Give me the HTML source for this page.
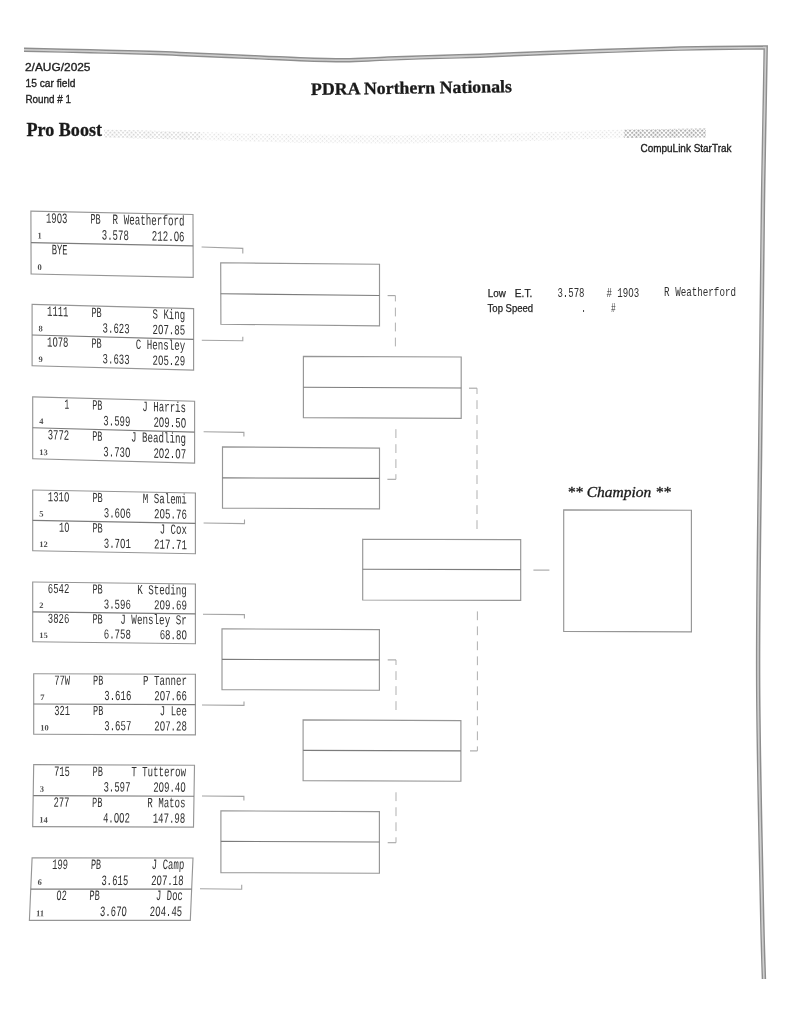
<!DOCTYPE html>
<html><head><meta charset="utf-8"><style>
html,body{margin:0;padding:0;background:#fff;}
body{width:791px;height:1024px;overflow:hidden;position:relative;}
svg{position:absolute;left:0;top:0;filter:blur(0.5px);}
</style></head><body>
<svg width="791" height="1024" viewBox="0 0 791 1024">
<defs>
<pattern id="ht" width="3" height="3" patternUnits="userSpaceOnUse">
<circle cx="1" cy="1" r="0.9" fill="#c8c8c8"/>
</pattern>
<pattern id="ht2" width="3" height="3" patternUnits="userSpaceOnUse">
<circle cx="1" cy="1" r="1.1" fill="#b0b0b0"/>
</pattern>
</defs>
<rect width="791" height="1024" fill="#fff"/>

<filter id="bb" x="-5%" y="-5%" width="110%" height="110%"><feGaussianBlur stdDeviation="0.6"/></filter>
<g filter="url(#bb)"><path d="M24,49.7 C35.00,49.97 69.00,50.80 90.00,51.30 C111.00,51.80 135.00,52.25 150.00,52.70 C165.00,53.15 161.67,53.22 180.00,54.00 C198.33,54.78 240.00,56.53 260.00,57.40 C280.00,58.27 285.83,58.73 300.00,59.20 C314.17,59.67 331.67,60.25 345.00,60.20 C358.33,60.15 367.50,59.37 380.00,58.90 C392.50,58.43 403.33,57.93 420.00,57.40 C436.67,56.87 460.00,56.40 480.00,55.70 C500.00,55.00 520.00,53.97 540.00,53.20 C560.00,52.43 576.67,51.87 600.00,51.10 C623.33,50.33 652.38,49.22 680.00,48.60 C707.62,47.98 751.42,47.60 765.70,47.40 C765.23,73.67 763.78,142.07 762.90,205.00 C762.02,267.93 761.20,346.67 760.40,425.00 C759.60,503.33 757.87,595.83 758.10,675.00 C758.33,754.17 760.83,849.33 761.80,900.00 C762.77,950.67 763.55,965.83 763.90,979.00" fill="none" stroke="#cfcfcf" stroke-width="2"/>
<path d="M24,48.2 C35.00,48.47 69.00,49.30 90.00,49.80 C111.00,50.30 135.00,50.75 150.00,51.20 C165.00,51.65 161.67,51.72 180.00,52.50 C198.33,53.28 240.00,55.03 260.00,55.90 C280.00,56.77 285.83,57.23 300.00,57.70 C314.17,58.17 331.67,58.75 345.00,58.70 C358.33,58.65 367.50,57.87 380.00,57.40 C392.50,56.93 403.33,56.43 420.00,55.90 C436.67,55.37 460.00,54.90 480.00,54.20 C500.00,53.50 520.00,52.47 540.00,51.70 C560.00,50.93 576.67,50.37 600.00,49.60 C623.33,48.83 652.13,47.72 680.00,47.10 C707.87,46.48 752.67,46.10 767.20,45.90 C766.73,72.42 765.28,141.82 764.40,205.00 C763.52,268.18 762.70,346.67 761.90,425.00 C761.10,503.33 759.37,595.83 759.60,675.00 C759.83,754.17 762.33,849.33 763.30,900.00 C764.27,950.67 765.05,965.83 765.40,979.00" fill="none" stroke="#8e8e8e" stroke-width="1.5"/>
<path d="M24,51.2 C35.00,51.47 69.00,52.30 90.00,52.80 C111.00,53.30 135.00,53.75 150.00,54.20 C165.00,54.65 161.67,54.72 180.00,55.50 C198.33,56.28 240.00,58.03 260.00,58.90 C280.00,59.77 285.83,60.23 300.00,60.70 C314.17,61.17 331.67,61.75 345.00,61.70 C358.33,61.65 367.50,60.87 380.00,60.40 C392.50,59.93 403.33,59.43 420.00,58.90 C436.67,58.37 460.00,57.90 480.00,57.20 C500.00,56.50 520.00,55.47 540.00,54.70 C560.00,53.93 576.67,53.37 600.00,52.60 C623.33,51.83 652.63,50.72 680.00,50.10 C707.37,49.48 750.17,49.10 764.20,48.90 C763.73,74.92 762.28,142.32 761.40,205.00 C760.52,267.68 759.70,346.67 758.90,425.00 C758.10,503.33 756.37,595.83 756.60,675.00 C756.83,754.17 759.33,849.33 760.30,900.00 C761.27,950.67 762.05,965.83 762.40,979.00" fill="none" stroke="#8e8e8e" stroke-width="1.4"/></g>
<text x="25" y="71" font-family="Liberation Sans" font-size="11.5" fill="#1e1e1e" stroke="#1e1e1e" stroke-width="0.35" textLength="65.5" lengthAdjust="spacingAndGlyphs">2/AUG/2025</text>
<text x="25.5" y="87" font-family="Liberation Sans" font-size="11.5" fill="#1e1e1e" stroke="#1e1e1e" stroke-width="0.35" textLength="50" lengthAdjust="spacingAndGlyphs">15 car field</text>
<text x="25.5" y="103" font-family="Liberation Sans" font-size="11" fill="#1e1e1e" stroke="#1e1e1e" stroke-width="0.35" textLength="45.5" lengthAdjust="spacingAndGlyphs">Round # 1</text>
<text x="311" y="95" font-family="Liberation Serif" font-weight="bold" font-size="17.5" fill="#1a1a1a" stroke="#1a1a1a" stroke-width="0.3" textLength="201" lengthAdjust="spacingAndGlyphs" transform="rotate(-0.8 311 95)">PDRA Northern Nationals</text>
<text x="26.5" y="135.5" font-family="Liberation Serif" font-weight="bold" font-size="18.5" fill="#1a1a1a" stroke="#1a1a1a" stroke-width="0.3" textLength="75.5" lengthAdjust="spacingAndGlyphs">Pro Boost</text>
<pattern id="htL" width="3" height="3" patternUnits="userSpaceOnUse" patternTransform="rotate(45)"><rect x="0" y="0" width="1.5" height="1.5" fill="#d6d6d6"/></pattern>
<pattern id="htM" width="3" height="3" patternUnits="userSpaceOnUse" patternTransform="rotate(45)"><rect x="0" y="0" width="1.4" height="1.4" fill="#e0e0e0"/></pattern>
<pattern id="htD" width="3" height="3" patternUnits="userSpaceOnUse" patternTransform="rotate(45)"><rect x="0" y="0" width="1.8" height="1.8" fill="#a8a8a8"/></pattern>
<polygon points="104,129.5 200,132 300,134.5 400,135 500,133.5 625,129.4 706,128.6 706,137.6 625,138 500,142 400,143.5 300,143 200,140 104,137.5" fill="url(#htM)"/>
<polygon points="104,129.5 200,132 200,140 104,137.5" fill="url(#htL)"/>
<polygon points="624,129.4 706,128.6 706,137.6 624,138" fill="url(#htD)"/>
<text x="640.5" y="151.5" font-family="Liberation Sans" font-size="10.5" fill="#1e1e1e" stroke="#1e1e1e" stroke-width="0.35" textLength="91" lengthAdjust="spacingAndGlyphs">CompuLink StarTrak</text>
<g transform="matrix(1.00062,0.02099,0.00323,1.01452,30.9,211.1)">
<rect x="0" y="0" width="162.0" height="62.0" fill="none" stroke="#969696" stroke-width="1.15"/>
<line x1="0" y1="31" x2="162.0" y2="31" stroke="#7c7c7c" stroke-width="1.15"/>
<text x="15.00" y="11.1" font-family="Liberation Mono" font-size="14.2" fill="#303030" textLength="21.50" lengthAdjust="spacingAndGlyphs">19O3</text>
<text x="59.50" y="11.1" font-family="Liberation Mono" font-size="14.2" fill="#303030" textLength="10.30" lengthAdjust="spacingAndGlyphs">PB</text>
<text x="81.60" y="11.1" font-family="Liberation Mono" font-size="14.2" fill="#303030" textLength="71.90" lengthAdjust="spacingAndGlyphs">R Weatherford</text>
<text x="70.70" y="26.6" font-family="Liberation Mono" font-size="14.2" fill="#303030" textLength="27.10" lengthAdjust="spacingAndGlyphs">3.578</text>
<text x="120.80" y="26.6" font-family="Liberation Mono" font-size="14.2" fill="#303030" textLength="32.70" lengthAdjust="spacingAndGlyphs">212.O6</text>
<text x="6.5" y="27" font-family="Liberation Serif" font-weight="bold" font-size="8.5" fill="#505050">1</text>
<text x="20.60" y="42.1" font-family="Liberation Mono" font-size="14.2" fill="#303030" textLength="15.90" lengthAdjust="spacingAndGlyphs">BYE</text>




<text x="6.5" y="58" font-family="Liberation Serif" font-weight="bold" font-size="8.5" fill="#505050">0</text>
</g>
<g transform="matrix(0.99691,0.02654,0.00000,0.99194,32.1,304.3)">
<rect x="0" y="0" width="162.0" height="62.0" fill="none" stroke="#969696" stroke-width="1.15"/>
<line x1="0" y1="31" x2="162.0" y2="31" stroke="#7c7c7c" stroke-width="1.15"/>
<text x="15.00" y="11.1" font-family="Liberation Mono" font-size="14.2" fill="#303030" textLength="21.50" lengthAdjust="spacingAndGlyphs">1111</text>
<text x="59.50" y="11.1" font-family="Liberation Mono" font-size="14.2" fill="#303030" textLength="10.30" lengthAdjust="spacingAndGlyphs">PB</text>
<text x="120.80" y="11.1" font-family="Liberation Mono" font-size="14.2" fill="#303030" textLength="32.70" lengthAdjust="spacingAndGlyphs">S King</text>
<text x="70.70" y="26.6" font-family="Liberation Mono" font-size="14.2" fill="#303030" textLength="27.10" lengthAdjust="spacingAndGlyphs">3.623</text>
<text x="120.80" y="26.6" font-family="Liberation Mono" font-size="14.2" fill="#303030" textLength="32.70" lengthAdjust="spacingAndGlyphs">2O7.85</text>
<text x="6.5" y="27" font-family="Liberation Serif" font-weight="bold" font-size="8.5" fill="#505050">8</text>
<text x="15.00" y="42.1" font-family="Liberation Mono" font-size="14.2" fill="#303030" textLength="21.50" lengthAdjust="spacingAndGlyphs">1O78</text>
<text x="59.50" y="42.1" font-family="Liberation Mono" font-size="14.2" fill="#303030" textLength="10.30" lengthAdjust="spacingAndGlyphs">PB</text>
<text x="104.00" y="42.1" font-family="Liberation Mono" font-size="14.2" fill="#303030" textLength="49.50" lengthAdjust="spacingAndGlyphs">C Hensley</text>
<text x="70.70" y="57.6" font-family="Liberation Mono" font-size="14.2" fill="#303030" textLength="27.10" lengthAdjust="spacingAndGlyphs">3.633</text>
<text x="120.80" y="57.6" font-family="Liberation Mono" font-size="14.2" fill="#303030" textLength="32.70" lengthAdjust="spacingAndGlyphs">2O5.29</text>
<text x="6.5" y="58" font-family="Liberation Serif" font-weight="bold" font-size="8.5" fill="#505050">9</text>
</g>
<g transform="matrix(0.99938,0.02716,0.00000,1.00000,32.7,396.8)">
<rect x="0" y="0" width="162.0" height="62.0" fill="none" stroke="#969696" stroke-width="1.15"/>
<line x1="0" y1="31" x2="162.0" y2="31" stroke="#7c7c7c" stroke-width="1.15"/>
<text x="31.80" y="11.1" font-family="Liberation Mono" font-size="14.2" fill="#303030" textLength="4.70" lengthAdjust="spacingAndGlyphs">1</text>
<text x="59.50" y="11.1" font-family="Liberation Mono" font-size="14.2" fill="#303030" textLength="10.30" lengthAdjust="spacingAndGlyphs">PB</text>
<text x="109.60" y="11.1" font-family="Liberation Mono" font-size="14.2" fill="#303030" textLength="43.90" lengthAdjust="spacingAndGlyphs">J Harris</text>
<text x="70.70" y="26.6" font-family="Liberation Mono" font-size="14.2" fill="#303030" textLength="27.10" lengthAdjust="spacingAndGlyphs">3.599</text>
<text x="120.80" y="26.6" font-family="Liberation Mono" font-size="14.2" fill="#303030" textLength="32.70" lengthAdjust="spacingAndGlyphs">2O9.5O</text>
<text x="6.5" y="27" font-family="Liberation Serif" font-weight="bold" font-size="8.5" fill="#505050">4</text>
<text x="15.00" y="42.1" font-family="Liberation Mono" font-size="14.2" fill="#303030" textLength="21.50" lengthAdjust="spacingAndGlyphs">3772</text>
<text x="59.50" y="42.1" font-family="Liberation Mono" font-size="14.2" fill="#303030" textLength="10.30" lengthAdjust="spacingAndGlyphs">PB</text>
<text x="98.40" y="42.1" font-family="Liberation Mono" font-size="14.2" fill="#303030" textLength="55.10" lengthAdjust="spacingAndGlyphs">J Beadling</text>
<text x="70.70" y="57.6" font-family="Liberation Mono" font-size="14.2" fill="#303030" textLength="27.10" lengthAdjust="spacingAndGlyphs">3.73O</text>
<text x="120.80" y="57.6" font-family="Liberation Mono" font-size="14.2" fill="#303030" textLength="32.70" lengthAdjust="spacingAndGlyphs">2O2.O7</text>
<text x="6.5" y="58" font-family="Liberation Serif" font-weight="bold" font-size="8.5" fill="#505050">13</text>
</g>
<g transform="matrix(1.00432,0.01852,0.00000,0.97903,32.7,490)">
<rect x="0" y="0" width="162.0" height="62.0" fill="none" stroke="#969696" stroke-width="1.15"/>
<line x1="0" y1="31" x2="162.0" y2="31" stroke="#7c7c7c" stroke-width="1.15"/>
<text x="15.00" y="11.1" font-family="Liberation Mono" font-size="14.2" fill="#303030" textLength="21.50" lengthAdjust="spacingAndGlyphs">131O</text>
<text x="59.50" y="11.1" font-family="Liberation Mono" font-size="14.2" fill="#303030" textLength="10.30" lengthAdjust="spacingAndGlyphs">PB</text>
<text x="109.60" y="11.1" font-family="Liberation Mono" font-size="14.2" fill="#303030" textLength="43.90" lengthAdjust="spacingAndGlyphs">M Salemi</text>
<text x="70.70" y="26.6" font-family="Liberation Mono" font-size="14.2" fill="#303030" textLength="27.10" lengthAdjust="spacingAndGlyphs">3.6O6</text>
<text x="120.80" y="26.6" font-family="Liberation Mono" font-size="14.2" fill="#303030" textLength="32.70" lengthAdjust="spacingAndGlyphs">2O5.76</text>
<text x="6.5" y="27" font-family="Liberation Serif" font-weight="bold" font-size="8.5" fill="#505050">5</text>
<text x="26.20" y="42.1" font-family="Liberation Mono" font-size="14.2" fill="#303030" textLength="10.30" lengthAdjust="spacingAndGlyphs">1O</text>
<text x="59.50" y="42.1" font-family="Liberation Mono" font-size="14.2" fill="#303030" textLength="10.30" lengthAdjust="spacingAndGlyphs">PB</text>
<text x="126.40" y="42.1" font-family="Liberation Mono" font-size="14.2" fill="#303030" textLength="27.10" lengthAdjust="spacingAndGlyphs">J Cox</text>
<text x="70.70" y="57.6" font-family="Liberation Mono" font-size="14.2" fill="#303030" textLength="27.10" lengthAdjust="spacingAndGlyphs">3.7O1</text>
<text x="120.80" y="57.6" font-family="Liberation Mono" font-size="14.2" fill="#303030" textLength="32.70" lengthAdjust="spacingAndGlyphs">217.71</text>
<text x="6.5" y="58" font-family="Liberation Serif" font-weight="bold" font-size="8.5" fill="#505050">12</text>
</g>
<g transform="matrix(1.00432,0.01235,0.00000,0.96452,32.7,582)">
<rect x="0" y="0" width="162.0" height="62.0" fill="none" stroke="#969696" stroke-width="1.15"/>
<line x1="0" y1="31" x2="162.0" y2="31" stroke="#7c7c7c" stroke-width="1.15"/>
<text x="15.00" y="11.1" font-family="Liberation Mono" font-size="14.2" fill="#303030" textLength="21.50" lengthAdjust="spacingAndGlyphs">6542</text>
<text x="59.50" y="11.1" font-family="Liberation Mono" font-size="14.2" fill="#303030" textLength="10.30" lengthAdjust="spacingAndGlyphs">PB</text>
<text x="104.00" y="11.1" font-family="Liberation Mono" font-size="14.2" fill="#303030" textLength="49.50" lengthAdjust="spacingAndGlyphs">K Steding</text>
<text x="70.70" y="26.6" font-family="Liberation Mono" font-size="14.2" fill="#303030" textLength="27.10" lengthAdjust="spacingAndGlyphs">3.596</text>
<text x="120.80" y="26.6" font-family="Liberation Mono" font-size="14.2" fill="#303030" textLength="32.70" lengthAdjust="spacingAndGlyphs">2O9.69</text>
<text x="6.5" y="27" font-family="Liberation Serif" font-weight="bold" font-size="8.5" fill="#505050">2</text>
<text x="15.00" y="42.1" font-family="Liberation Mono" font-size="14.2" fill="#303030" textLength="21.50" lengthAdjust="spacingAndGlyphs">3826</text>
<text x="59.50" y="42.1" font-family="Liberation Mono" font-size="14.2" fill="#303030" textLength="10.30" lengthAdjust="spacingAndGlyphs">PB</text>
<text x="87.20" y="42.1" font-family="Liberation Mono" font-size="14.2" fill="#303030" textLength="66.30" lengthAdjust="spacingAndGlyphs">J Wensley Sr</text>
<text x="70.70" y="57.6" font-family="Liberation Mono" font-size="14.2" fill="#303030" textLength="27.10" lengthAdjust="spacingAndGlyphs">6.758</text>
<text x="126.40" y="57.6" font-family="Liberation Mono" font-size="14.2" fill="#303030" textLength="27.10" lengthAdjust="spacingAndGlyphs">68.8O</text>
<text x="6.5" y="58" font-family="Liberation Serif" font-weight="bold" font-size="8.5" fill="#505050">15</text>
</g>
<g transform="matrix(0.99815,0.00370,0.00000,0.97742,33.7,673.7)">
<rect x="0" y="0" width="162.0" height="62.0" fill="none" stroke="#969696" stroke-width="1.15"/>
<line x1="0" y1="31" x2="162.0" y2="31" stroke="#7c7c7c" stroke-width="1.15"/>
<text x="20.60" y="11.1" font-family="Liberation Mono" font-size="14.2" fill="#303030" textLength="15.90" lengthAdjust="spacingAndGlyphs">77W</text>
<text x="59.50" y="11.1" font-family="Liberation Mono" font-size="14.2" fill="#303030" textLength="10.30" lengthAdjust="spacingAndGlyphs">PB</text>
<text x="109.60" y="11.1" font-family="Liberation Mono" font-size="14.2" fill="#303030" textLength="43.90" lengthAdjust="spacingAndGlyphs">P Tanner</text>
<text x="70.70" y="26.6" font-family="Liberation Mono" font-size="14.2" fill="#303030" textLength="27.10" lengthAdjust="spacingAndGlyphs">3.616</text>
<text x="120.80" y="26.6" font-family="Liberation Mono" font-size="14.2" fill="#303030" textLength="32.70" lengthAdjust="spacingAndGlyphs">2O7.66</text>
<text x="6.5" y="27" font-family="Liberation Serif" font-weight="bold" font-size="8.5" fill="#505050">7</text>
<text x="20.60" y="42.1" font-family="Liberation Mono" font-size="14.2" fill="#303030" textLength="15.90" lengthAdjust="spacingAndGlyphs">321</text>
<text x="59.50" y="42.1" font-family="Liberation Mono" font-size="14.2" fill="#303030" textLength="10.30" lengthAdjust="spacingAndGlyphs">PB</text>
<text x="126.40" y="42.1" font-family="Liberation Mono" font-size="14.2" fill="#303030" textLength="27.10" lengthAdjust="spacingAndGlyphs">J Lee</text>
<text x="70.70" y="57.6" font-family="Liberation Mono" font-size="14.2" fill="#303030" textLength="27.10" lengthAdjust="spacingAndGlyphs">3.657</text>
<text x="120.80" y="57.6" font-family="Liberation Mono" font-size="14.2" fill="#303030" textLength="32.70" lengthAdjust="spacingAndGlyphs">2O7.28</text>
<text x="6.5" y="58" font-family="Liberation Serif" font-weight="bold" font-size="8.5" fill="#505050">10</text>
</g>
<g transform="matrix(0.99259,0.00370,-0.01613,0.99839,33.7,764.7)">
<rect x="0" y="0" width="162.0" height="62.0" fill="none" stroke="#969696" stroke-width="1.15"/>
<line x1="0" y1="31" x2="162.0" y2="31" stroke="#7c7c7c" stroke-width="1.15"/>
<text x="20.60" y="11.1" font-family="Liberation Mono" font-size="14.2" fill="#303030" textLength="15.90" lengthAdjust="spacingAndGlyphs">715</text>
<text x="59.50" y="11.1" font-family="Liberation Mono" font-size="14.2" fill="#303030" textLength="10.30" lengthAdjust="spacingAndGlyphs">PB</text>
<text x="98.40" y="11.1" font-family="Liberation Mono" font-size="14.2" fill="#303030" textLength="55.10" lengthAdjust="spacingAndGlyphs">T Tutterow</text>
<text x="70.70" y="26.6" font-family="Liberation Mono" font-size="14.2" fill="#303030" textLength="27.10" lengthAdjust="spacingAndGlyphs">3.597</text>
<text x="120.80" y="26.6" font-family="Liberation Mono" font-size="14.2" fill="#303030" textLength="32.70" lengthAdjust="spacingAndGlyphs">2O9.4O</text>
<text x="6.5" y="27" font-family="Liberation Serif" font-weight="bold" font-size="8.5" fill="#505050">3</text>
<text x="20.60" y="42.1" font-family="Liberation Mono" font-size="14.2" fill="#303030" textLength="15.90" lengthAdjust="spacingAndGlyphs">277</text>
<text x="59.50" y="42.1" font-family="Liberation Mono" font-size="14.2" fill="#303030" textLength="10.30" lengthAdjust="spacingAndGlyphs">PB</text>
<text x="115.20" y="42.1" font-family="Liberation Mono" font-size="14.2" fill="#303030" textLength="38.30" lengthAdjust="spacingAndGlyphs">R Matos</text>
<text x="70.70" y="57.6" font-family="Liberation Mono" font-size="14.2" fill="#303030" textLength="27.10" lengthAdjust="spacingAndGlyphs">4.OO2</text>
<text x="120.80" y="57.6" font-family="Liberation Mono" font-size="14.2" fill="#303030" textLength="32.70" lengthAdjust="spacingAndGlyphs">147.98</text>
<text x="6.5" y="58" font-family="Liberation Serif" font-weight="bold" font-size="8.5" fill="#505050">14</text>
</g>
<g transform="matrix(0.99321,0.00062,-0.04355,1.00645,32.1,857.9)">
<rect x="0" y="0" width="162.0" height="62.0" fill="none" stroke="#969696" stroke-width="1.15"/>
<line x1="0" y1="31" x2="162.0" y2="31" stroke="#7c7c7c" stroke-width="1.15"/>
<text x="20.60" y="11.1" font-family="Liberation Mono" font-size="14.2" fill="#303030" textLength="15.90" lengthAdjust="spacingAndGlyphs">199</text>
<text x="59.50" y="11.1" font-family="Liberation Mono" font-size="14.2" fill="#303030" textLength="10.30" lengthAdjust="spacingAndGlyphs">PB</text>
<text x="120.80" y="11.1" font-family="Liberation Mono" font-size="14.2" fill="#303030" textLength="32.70" lengthAdjust="spacingAndGlyphs">J Camp</text>
<text x="70.70" y="26.6" font-family="Liberation Mono" font-size="14.2" fill="#303030" textLength="27.10" lengthAdjust="spacingAndGlyphs">3.615</text>
<text x="120.80" y="26.6" font-family="Liberation Mono" font-size="14.2" fill="#303030" textLength="32.70" lengthAdjust="spacingAndGlyphs">2O7.18</text>
<text x="6.5" y="27" font-family="Liberation Serif" font-weight="bold" font-size="8.5" fill="#505050">6</text>
<text x="26.20" y="42.1" font-family="Liberation Mono" font-size="14.2" fill="#303030" textLength="10.30" lengthAdjust="spacingAndGlyphs">O2</text>
<text x="59.50" y="42.1" font-family="Liberation Mono" font-size="14.2" fill="#303030" textLength="10.30" lengthAdjust="spacingAndGlyphs">PB</text>
<text x="126.40" y="42.1" font-family="Liberation Mono" font-size="14.2" fill="#303030" textLength="27.10" lengthAdjust="spacingAndGlyphs">J Doc</text>
<text x="70.70" y="57.6" font-family="Liberation Mono" font-size="14.2" fill="#303030" textLength="27.10" lengthAdjust="spacingAndGlyphs">3.67O</text>
<text x="120.80" y="57.6" font-family="Liberation Mono" font-size="14.2" fill="#303030" textLength="32.70" lengthAdjust="spacingAndGlyphs">2O4.45</text>
<text x="6.5" y="58" font-family="Liberation Serif" font-weight="bold" font-size="8.5" fill="#505050">11</text>
</g>
<polyline points="201.6,247.0 242.8,248.4 242.8,253.4" fill="none" stroke="#a4a4a4" stroke-width="1.1"/>
<polyline points="201.8,340.2 242.8,340.8 242.8,336.8" fill="none" stroke="#a4a4a4" stroke-width="1.1"/>
<polyline points="203.6,431.8 243.9,432.4 243.9,436.4" fill="none" stroke="#a4a4a4" stroke-width="1.1"/>
<polyline points="203.6,523.0 244.5,523.6 244.5,519.6" fill="none" stroke="#a4a4a4" stroke-width="1.1"/>
<polyline points="203.0,614.2 244.4,614.6 244.4,618.6" fill="none" stroke="#a4a4a4" stroke-width="1.1"/>
<polyline points="202.0,705.0 244.0,705.4 244.0,701.4" fill="none" stroke="#a4a4a4" stroke-width="1.1"/>
<polyline points="202.0,796.0 243.9,796.4 243.9,800.4" fill="none" stroke="#a4a4a4" stroke-width="1.1"/>
<polyline points="200.0,888.8 241.7,889.2 241.7,884.7" fill="none" stroke="#a4a4a4" stroke-width="1.1"/>
<polygon points="220.7,262.8 379.5,264.3 379.5,325.9 220.9,324.2" fill="none" stroke="#969696" stroke-width="1.15"/>
<line x1="220.7" y1="293.7" x2="379.5" y2="295.5" stroke="#7c7c7c" stroke-width="1.15"/>
<polygon points="222.5,446.9 379.5,448.1 379.5,508.8 222.5,508.1" fill="none" stroke="#969696" stroke-width="1.15"/>
<line x1="222.5" y1="477.9" x2="379.5" y2="478.4" stroke="#7c7c7c" stroke-width="1.15"/>
<polygon points="222.0,628.8 379.4,629.6 379.4,690.2 222.0,689.6" fill="none" stroke="#969696" stroke-width="1.15"/>
<line x1="222.0" y1="659.4" x2="379.4" y2="659.8" stroke="#7c7c7c" stroke-width="1.15"/>
<polygon points="220.9,810.8 379.4,811.6 379.4,873.2 220.9,872.6" fill="none" stroke="#969696" stroke-width="1.15"/>
<line x1="220.9" y1="841.4" x2="379.4" y2="842.0" stroke="#7c7c7c" stroke-width="1.15"/>
<polygon points="303.4,356.4 461.2,357.0 461.2,418.4 303.4,417.6" fill="none" stroke="#969696" stroke-width="1.15"/>
<line x1="303.4" y1="387.2" x2="461.2" y2="388.0" stroke="#7c7c7c" stroke-width="1.15"/>
<polygon points="303.1,719.8 460.9,720.6 460.9,781.2 303.1,780.6" fill="none" stroke="#969696" stroke-width="1.15"/>
<line x1="303.1" y1="750.3" x2="460.9" y2="750.8" stroke="#7c7c7c" stroke-width="1.15"/>
<polygon points="362.7,539.2 520.7,539.6 520.7,600.4 362.7,600.0" fill="none" stroke="#969696" stroke-width="1.15"/>
<line x1="362.7" y1="569.2" x2="520.7" y2="569.6" stroke="#7c7c7c" stroke-width="1.15"/>
<polygon points="563.7,509.9 691.4,510.2 691.4,631.8 563.7,631.4" fill="none" stroke="#969696" stroke-width="1.15"/>
<line x1="387.6" y1="295.6" x2="395.4" y2="295.6" stroke="#a4a4a4" stroke-width="1.1"/>
<line x1="395.4" y1="346.4" x2="395.4" y2="295.6" stroke="#acacac" stroke-width="0.95" stroke-dasharray="8.8 6.2"/>
<line x1="387.4" y1="479.3" x2="395.9" y2="479.3" stroke="#a4a4a4" stroke-width="1.1"/>
<line x1="395.9" y1="429.2" x2="395.9" y2="479.3" stroke="#acacac" stroke-width="0.95" stroke-dasharray="8.8 6.2"/>
<line x1="387.7" y1="659.9" x2="396.0" y2="659.9" stroke="#a4a4a4" stroke-width="1.1"/>
<line x1="396.0" y1="710.0" x2="396.0" y2="659.9" stroke="#acacac" stroke-width="0.95" stroke-dasharray="8.8 6.2"/>
<line x1="387.7" y1="842.7" x2="396.0" y2="842.7" stroke="#a4a4a4" stroke-width="1.1"/>
<line x1="396.0" y1="792.3" x2="396.0" y2="842.7" stroke="#acacac" stroke-width="0.95" stroke-dasharray="8.8 6.2"/>
<line x1="469.0" y1="388.2" x2="477.0" y2="388.2" stroke="#a4a4a4" stroke-width="1.1"/>
<line x1="477.0" y1="529.0" x2="477.0" y2="388.2" stroke="#acacac" stroke-width="0.95" stroke-dasharray="8.8 6.2"/>
<line x1="470.0" y1="750.9" x2="477.4" y2="750.9" stroke="#a4a4a4" stroke-width="1.1"/>
<line x1="477.4" y1="611.4" x2="477.4" y2="750.9" stroke="#acacac" stroke-width="0.95" stroke-dasharray="8.8 6.2"/>
<line x1="533.4" y1="570.1" x2="549.4" y2="570.1" stroke="#a4a4a4" stroke-width="1.1"/>
<text x="567.3" y="496.6" font-family="Liberation Serif" font-style="italic" font-size="13.6" fill="#1a1a1a" stroke="#1a1a1a" stroke-width="0.3" textLength="103.4" lengthAdjust="spacingAndGlyphs">** Champion **</text>
<text x="487.8" y="296.9" font-family="Liberation Sans" font-size="10.5" fill="#222" stroke="#222" stroke-width="0.25" textLength="18" lengthAdjust="spacingAndGlyphs">Low</text>
<text x="514.8" y="296.9" font-family="Liberation Sans" font-size="10.5" fill="#222" stroke="#222" stroke-width="0.25" textLength="17.5" lengthAdjust="spacingAndGlyphs">E.T.</text>
<text x="487.6" y="311.9" font-family="Liberation Sans" font-size="10.5" fill="#222" stroke="#222" stroke-width="0.25" textLength="45.5" lengthAdjust="spacingAndGlyphs">Top Speed</text>
<text x="557.40" y="296.8" font-family="Liberation Mono" font-size="12.8" fill="#303030" textLength="27.10" lengthAdjust="spacingAndGlyphs">3.578</text>
<text x="606.40" y="296.8" font-family="Liberation Mono" font-size="12.8" fill="#303030" textLength="32.70" lengthAdjust="spacingAndGlyphs"># 19O3</text>
<text x="664.10" y="296.0" font-family="Liberation Mono" font-size="12.8" fill="#303030" textLength="71.90" lengthAdjust="spacingAndGlyphs">R Weatherford</text>
<text x="581.30" y="311.8" font-family="Liberation Mono" font-size="12.8" fill="#303030" textLength="4.70" lengthAdjust="spacingAndGlyphs">.</text>
<text x="611.00" y="311.8" font-family="Liberation Mono" font-size="12.8" fill="#303030" textLength="4.70" lengthAdjust="spacingAndGlyphs">#</text>
</svg></body></html>
